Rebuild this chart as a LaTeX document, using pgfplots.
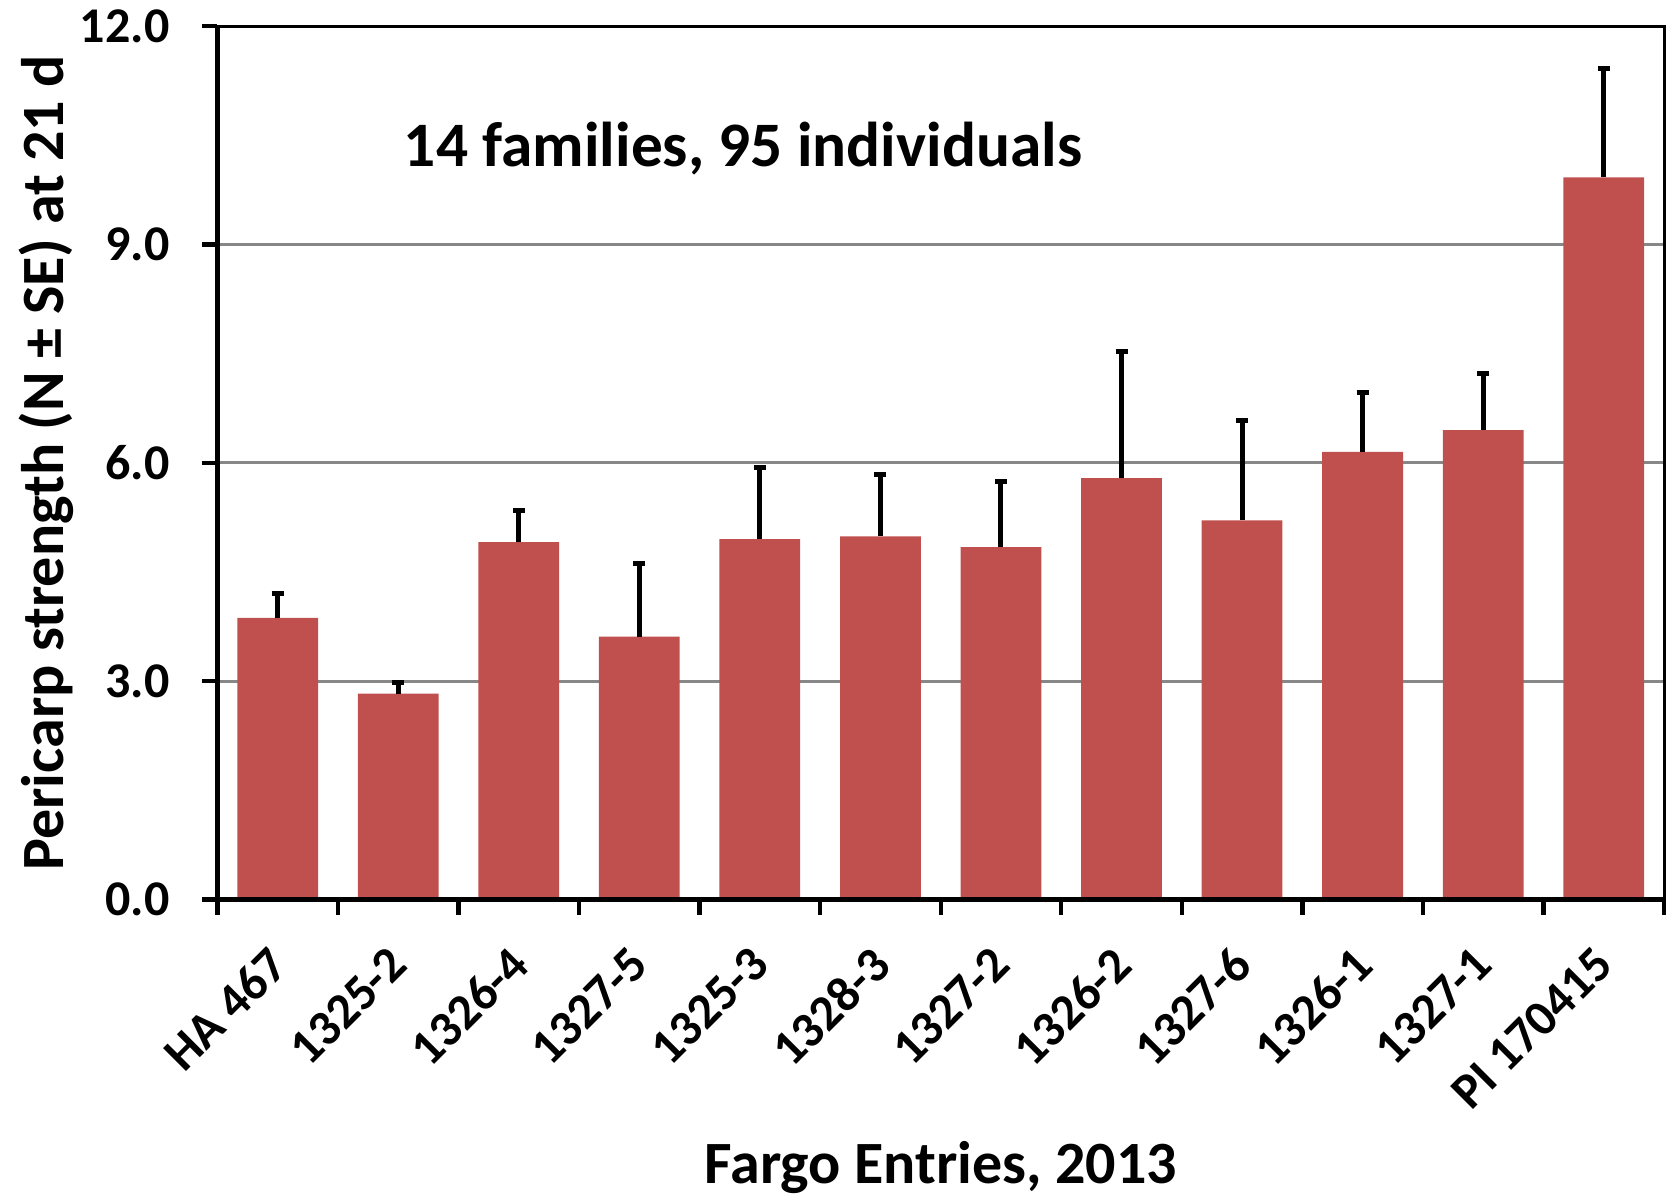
\documentclass[border=0pt]{standalone}
\usepackage{pgfplots}
\pgfplotsset{compat=1.18}
\usepackage{fontspec}
\setmainfont{Carlito}

\definecolor{barred}{HTML}{C0504D}
\definecolor{gridgray}{HTML}{878787}

% mean pericarp strength and standard error per entry
\pgfplotstableread{
x  y     err
0  3.87  0.33
1  2.83  0.15
2  4.91  0.43
3  3.61  1.00
4  4.95  0.99
5  4.99  0.85
6  4.84  0.90
7  5.79  1.74
8  5.21  1.37
9  6.15  0.82
10 6.45  0.77
11 9.92  1.50
}\strengthdata

\begin{document}
\begin{tikzpicture}
% page frame around the 433.9pt x 262pt plot area, whose lower left corner is the origin
\path[use as bounding box] (-65.2pt,-89.1pt) rectangle (435.4pt,269.8pt);
\begin{axis}[
  name=ax,
  at={(0,0)}, anchor=south west,
  scale only axis,
  width=433.9pt, height=262pt,
  xmin=-0.5, xmax=11.5,
  ymin=0, ymax=12,
  ybar, bar width=0.67,
  axis line style={line width=0.9pt, black},
  tick pos=left,
  tick align=outside,
  major tick length=4.5pt,
  minor tick length=4.5pt,
  tick style={line width=1.3pt, black},
  xtick={0,...,11},
  xticklabels={HA 467,1325-2,1326-4,1327-5,1325-3,1328-3,1327-2,1326-2,1327-6,1326-1,1327-1,PI 170415},
  major x tick style={draw=none},
  minor xtick={-0.5,0.5,...,11.5},
  ytick={0,3,6,9,12},
  ymajorgrids,
  grid style={line width=0.9pt, gridgray},
  /pgf/number format/assume math mode=true,
  yticklabel={\pgfmathprintnumber[fixed,fixed zerofill,precision=1]{\tick}},
  ticklabel style={font=\bfseries\fontsize{15}{17}\selectfont},
  yticklabel style={anchor=east, inner sep=0pt, xshift=-9.7pt},
  xticklabel style={xshift=-3.5pt, yshift=-8.6pt, rotate=45, anchor=north east, inner sep=0pt},
  ylabel={Pericarp strength (N ± SE) at 21 d},
  xlabel={Fargo Entries, 2013},
  every axis y label/.style={at={(axis description cs:-0.1375,0.5)}, anchor=north, rotate=90, inner sep=0pt, font=\bfseries\fontsize{18}{20}\selectfont},
  every axis x label/.style={at={(axis description cs:0.5,-0.3378)}, anchor=south, inner sep=0pt, font=\bfseries\fontsize{18}{20}\selectfont},
  clip=false,
]
\addplot[fill=barred, draw=none,
  error bars/.cd, y dir=plus, y explicit,
  error bar style={line width=1.5pt, draw=black},
  error mark=|,
  error mark options={line width=1.5pt, draw=black, mark size=1.8pt}]
  table[x=x, y=y, y error=err] {\strengthdata};
\node[font=\bfseries\fontsize{19}{21}\selectfont] at (axis cs:3.86,10.32) {14 families, 95 individuals};
\end{axis}
\draw[line width=1.4pt, black] (ax.north west) -- (ax.south west) -- (ax.south east);
\end{tikzpicture}
\end{document}
